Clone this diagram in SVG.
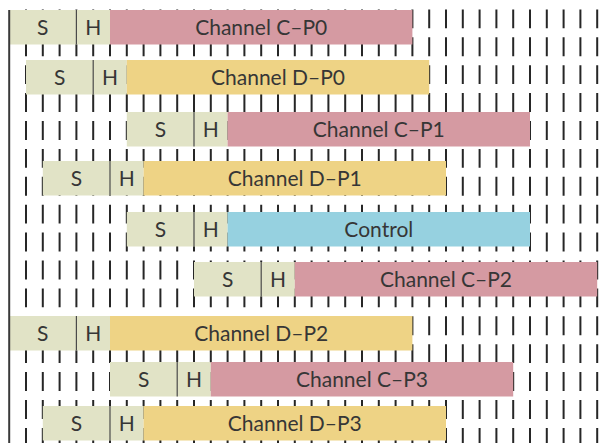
<svg xmlns="http://www.w3.org/2000/svg" width="608" height="443" viewBox="0 0 608 443">
<style>
  .dash{fill:none;stroke:#262626;stroke-width:2;stroke-dasharray:18.9 9}
  .axis{fill:none;stroke:#3a3a3a;stroke-width:2}
  .sh{fill:#e1e3c6}
  .sep{stroke:#4a4a4a;stroke-width:1.2}
  .pink{fill:#d59aa2}
  .yellow{fill:#eed385}
  .blue{fill:#96d1e0}
  text{font-family:Lato,"Noto Sans","Liberation Sans",sans-serif;font-size:21px;fill:#363636;text-anchor:middle}
</style>
<rect width="608" height="443" fill="#ffffff"/>
<g id="grid">
  <path class="dash" d="M26 9.4V443M42.8 9.4V443M59.6 9.4V443M76.4 9.4V443M93.2 9.4V443M110 9.4V443M126.8 9.4V443M143.6 9.4V443M160.4 9.4V443M177.2 9.4V443M194 9.4V443M210.8 9.4V443M227.6 9.4V443M244.4 9.4V443M261.2 9.4V443M278 9.4V443M294.8 9.4V443M311.6 9.4V443M328.4 9.4V443M345.2 9.4V443M362 9.4V443M378.8 9.4V443M395.6 9.4V443M412.4 9.4V443M429.2 9.4V443M446 9.4V443M462.8 9.4V443M479.6 9.4V443M496.4 9.4V443M513.2 9.4V443M530 9.4V443M546.8 9.4V443M563.6 9.4V443M580.4 9.4V443M597.2 9.4V443"/>
</g>
<g id="row1">
  <rect class="sh" x="9.2" y="10" width="100.8" height="34.5"/>
  <rect class="pink" x="110" y="10" width="302.4" height="34.5"/>
  <line class="sep" x1="76.4" y1="10" x2="76.4" y2="44.5"/>
  <text x="42.8" y="34.8">S</text><text x="93.2" y="34.8">H</text><text x="261.2" y="34.8">Channel C–P0</text>
</g>
<g id="row2">
  <rect class="sh" x="26" y="60" width="100.8" height="34.5"/>
  <rect class="yellow" x="126.8" y="60" width="302.4" height="34.5"/>
  <line class="sep" x1="93.2" y1="60" x2="93.2" y2="94.5"/>
  <text x="59.6" y="84.8">S</text><text x="110" y="84.8">H</text><text x="278" y="84.8">Channel D–P0</text>
</g>
<g id="row3">
  <rect class="sh" x="126.8" y="112" width="100.8" height="34.5"/>
  <rect class="pink" x="227.6" y="112" width="302.4" height="34.5"/>
  <line class="sep" x1="194" y1="112" x2="194" y2="146.5"/>
  <text x="160.4" y="136.8">S</text><text x="210.8" y="136.8">H</text><text x="378.8" y="136.8">Channel C–P1</text>
</g>
<g id="row4">
  <rect class="sh" x="42.8" y="161" width="100.8" height="34.5"/>
  <rect class="yellow" x="143.6" y="161" width="302.4" height="34.5"/>
  <line class="sep" x1="110" y1="161" x2="110" y2="195.5"/>
  <text x="76.4" y="185.8">S</text><text x="126.8" y="185.8">H</text><text x="294.8" y="185.8">Channel D–P1</text>
</g>
<g id="row5">
  <rect class="sh" x="126.8" y="212" width="100.8" height="34.5"/>
  <rect class="blue" x="227.6" y="212" width="302.4" height="34.5"/>
  <line class="sep" x1="194" y1="212" x2="194" y2="246.5"/>
  <text x="160.4" y="236.8">S</text><text x="210.8" y="236.8">H</text><text x="378.8" y="236.8">Control</text>
</g>
<g id="row6">
  <rect class="sh" x="194" y="262" width="100.8" height="34.5"/>
  <rect class="pink" x="294.8" y="262" width="302.4" height="34.5"/>
  <line class="sep" x1="261.2" y1="262" x2="261.2" y2="296.5"/>
  <text x="227.6" y="286.8">S</text><text x="278" y="286.8">H</text><text x="446" y="286.8">Channel C–P2</text>
</g>
<g id="row7">
  <rect class="sh" x="9.2" y="316" width="100.8" height="34.5"/>
  <rect class="yellow" x="110" y="316" width="302.4" height="34.5"/>
  <line class="sep" x1="76.4" y1="316" x2="76.4" y2="350.5"/>
  <text x="42.8" y="340.8">S</text><text x="93.2" y="340.8">H</text><text x="261.2" y="340.8">Channel D–P2</text>
</g>
<g id="row8">
  <rect class="sh" x="110" y="362" width="100.8" height="34.5"/>
  <rect class="pink" x="210.8" y="362" width="302.4" height="34.5"/>
  <line class="sep" x1="177.2" y1="362" x2="177.2" y2="396.5"/>
  <text x="143.6" y="386.8">S</text><text x="194" y="386.8">H</text><text x="362" y="386.8">Channel C–P3</text>
</g>
<g id="row9">
  <rect class="sh" x="42.8" y="406" width="100.8" height="34.5"/>
  <rect class="yellow" x="143.6" y="406" width="302.4" height="34.5"/>
  <line class="sep" x1="110" y1="406" x2="110" y2="440.5"/>
  <text x="76.4" y="430.8">S</text><text x="126.8" y="430.8">H</text><text x="294.8" y="430.8">Channel D–P3</text>
</g>
<g id="axis">
  <line class="axis" x1="9.2" y1="10" x2="9.2" y2="443"/>
</g>
</svg>
